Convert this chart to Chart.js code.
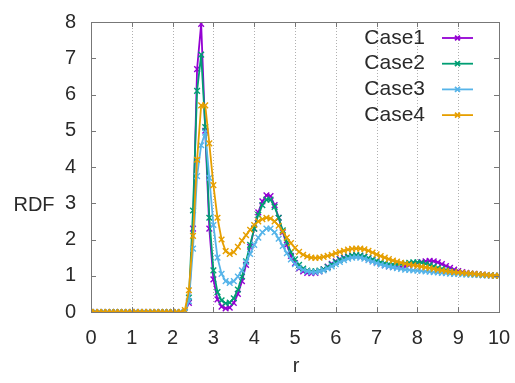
<!DOCTYPE html>
<html>
<head>
<meta charset="utf-8">
<script src="https://cdn.jsdelivr.net/npm/chart.js@4"></script>
<style>
  html, body { margin: 0; padding: 0; background: #fff; }
  #wrap { width: 515px; height: 383px; }
</style>
</head>
<body>
<div id="wrap"><canvas id="rdfChart" width="515" height="383"></canvas></div>
<script>
// r values (x axis)
const rValues = [
  0.0, 0.1, 0.2, 0.3, 0.4, 0.5, 0.6, 0.7, 0.8, 0.9,
  1.0, 1.1, 1.2, 1.3, 1.4, 1.5, 1.6, 1.7, 1.8, 1.9,
  2.0, 2.1, 2.2, 2.3, 2.4, 2.5, 2.6, 2.7, 2.8, 2.9,
  3.0, 3.1, 3.2, 3.3, 3.4, 3.5, 3.6, 3.7, 3.8, 3.9,
  4.0, 4.1, 4.2, 4.3, 4.4, 4.5, 4.6, 4.7, 4.8, 4.9,
  5.0, 5.1, 5.2, 5.3, 5.4, 5.5, 5.6, 5.7, 5.8, 5.9,
  6.0, 6.1, 6.2, 6.3, 6.4, 6.5, 6.6, 6.7, 6.8, 6.9,
  7.0, 7.1, 7.2, 7.3, 7.4, 7.5, 7.6, 7.7, 7.8, 7.9,
  8.0, 8.1, 8.2, 8.3, 8.4, 8.5, 8.6, 8.7, 8.8, 8.9,
  9.0, 9.1, 9.2, 9.3, 9.4, 9.5, 9.6, 9.7, 9.8, 9.9,
  10.0
];

const case1 = [
  0, 0, 0, 0, 0, 0, 0, 0, 0, 0,
  0, 0, 0, 0, 0, 0, 0, 0, 0, 0,
  0, 0, 0, 0, 0.25, 2.3, 6.7, 7.95, 5.0, 2.3,
  0.9, 0.35, 0.15, 0.1, 0.12, 0.25, 0.5, 0.85, 1.3, 1.8,
  2.3, 2.75, 3.05, 3.22, 3.2, 2.95, 2.6, 2.2, 1.85, 1.55,
  1.35, 1.2, 1.12, 1.08, 1.07, 1.08, 1.12, 1.18, 1.25, 1.33,
  1.4, 1.46, 1.5, 1.53, 1.55, 1.56, 1.55, 1.52, 1.48, 1.43,
  1.38, 1.33, 1.29, 1.26, 1.24, 1.23, 1.24, 1.26, 1.29, 1.32,
  1.35, 1.38, 1.4, 1.41, 1.4, 1.37, 1.32, 1.27, 1.22, 1.17,
  1.13, 1.1, 1.08, 1.06, 1.05, 1.04, 1.03, 1.02, 1.01, 1.0,
  1.0
];

const case2 = [
  0, 0, 0, 0, 0, 0, 0, 0, 0, 0,
  0, 0, 0, 0, 0, 0, 0, 0, 0, 0,
  0, 0, 0, 0, 0.4, 2.8, 6.1, 7.1, 5.1, 2.6,
  1.15, 0.55, 0.32, 0.24, 0.26, 0.38, 0.62, 0.98, 1.4, 1.85,
  2.3, 2.68, 2.95, 3.1, 3.1, 2.9, 2.6, 2.25, 1.92, 1.65,
  1.45, 1.3, 1.2, 1.14, 1.12, 1.12, 1.14, 1.18, 1.24, 1.31,
  1.38, 1.44, 1.49, 1.53, 1.56, 1.57, 1.56, 1.53, 1.49, 1.45,
  1.41, 1.37, 1.34, 1.32, 1.31, 1.31, 1.32, 1.34, 1.36, 1.37,
  1.37, 1.36, 1.33, 1.3, 1.26, 1.22, 1.19, 1.16, 1.13, 1.11,
  1.09, 1.07, 1.06, 1.05, 1.04, 1.03, 1.02, 1.02, 1.01, 1.0,
  1.0
];

const case3 = [
  0, 0, 0, 0, 0, 0, 0, 0, 0, 0,
  0, 0, 0, 0, 0, 0, 0, 0, 0, 0,
  0, 0, 0, 0, 0.3, 1.75, 3.75, 4.6, 4.95, 3.7,
  2.4, 1.5, 1.05, 0.85, 0.8, 0.85, 0.98, 1.15, 1.38, 1.6,
  1.85, 2.05, 2.2, 2.3, 2.3, 2.2, 2.02, 1.82, 1.62, 1.45,
  1.32, 1.22, 1.16, 1.12, 1.1, 1.1, 1.12, 1.15, 1.2, 1.26,
  1.32, 1.38, 1.43, 1.47, 1.5, 1.51, 1.5, 1.47, 1.43, 1.39,
  1.35, 1.31, 1.28, 1.25, 1.23, 1.21, 1.19, 1.17, 1.16, 1.15,
  1.14, 1.13, 1.12, 1.11, 1.1, 1.09, 1.08, 1.07, 1.06, 1.05,
  1.05, 1.04, 1.03, 1.03, 1.02, 1.02, 1.01, 1.01, 1.0, 1.0,
  1.0
];

const case4 = [
  0, 0, 0, 0, 0, 0, 0, 0, 0, 0,
  0, 0, 0, 0, 0, 0, 0, 0, 0, 0,
  0, 0, 0, 0.05, 0.6, 2.1, 4.2, 5.7, 5.7, 4.65,
  3.5, 2.6, 2.0, 1.68, 1.6, 1.65, 1.8, 1.97, 2.12, 2.27,
  2.4, 2.5, 2.56, 2.6, 2.58, 2.5, 2.38, 2.22, 2.05, 1.9,
  1.77, 1.66, 1.58, 1.53, 1.5, 1.49, 1.5, 1.52, 1.55, 1.58,
  1.62, 1.66, 1.69, 1.72, 1.74, 1.75, 1.75, 1.73, 1.69, 1.64,
  1.59, 1.54, 1.5, 1.46, 1.42, 1.39, 1.36, 1.33, 1.31, 1.29,
  1.27, 1.25, 1.23, 1.21, 1.19, 1.17, 1.15, 1.13, 1.11, 1.1,
  1.09, 1.08, 1.07, 1.06, 1.05, 1.04, 1.03, 1.02, 1.01, 1.0,
  1.0
];

const seriesNames = ["Case1", "Case2", "Case3", "Case4"];
const seriesValues = [case1, case2, case3, case4];
const seriesColors = ["#9400d3", "#009e73", "#56b4e9", "#e69f00"];

const FONT = "'Liberation Sans', Arial, sans-serif";
const TEXT = "#2a2a2a";

function toPoints(ys) {
  return ys.map((y, i) => ({ x: rValues[i], y: y }));
}

const datasets = seriesNames.map((name, i) => ({
  label: name,
  data: toPoints(seriesValues[i]),
  borderColor: seriesColors[i],
  backgroundColor: seriesColors[i],
  borderWidth: 1.8,
  pointStyle: "crossRot",
  pointRadius: 4,
  pointBorderWidth: 1.4,
  tension: 0,
  order: 4 - i
}));

// frame, inward ticks, axis titles, gnuplot-style legend
const gnuplotBits = {
  id: "gnuplotBits",
  beforeDatasetsDraw(chart) {
    // dotted vertical grid lines
    const ctx = chart.ctx;
    const a = chart.chartArea;
    const xs = chart.scales.x;
    ctx.save();
    ctx.strokeStyle = "#b0b0b0";
    ctx.lineWidth = 1;
    ctx.setLineDash([1, 2]);
    ctx.beginPath();
    xs.ticks.forEach(t => {
      if (t.value <= xs.min || t.value >= xs.max) return;
      const px = Math.round(xs.getPixelForValue(t.value)) + 0.5;
      ctx.moveTo(px, a.top); ctx.lineTo(px, a.bottom);
    });
    ctx.stroke();
    ctx.restore();
  },
  afterDatasetsDraw(chart) {
    const ctx = chart.ctx;
    const a = chart.chartArea;
    const xs = chart.scales.x, ys = chart.scales.y;
    ctx.save();
    ctx.strokeStyle = "#777";
    ctx.lineWidth = 1;
    ctx.beginPath();
    xs.ticks.forEach(t => {
      const px = Math.round(xs.getPixelForValue(t.value)) + 0.5;
      ctx.moveTo(px, a.bottom); ctx.lineTo(px, a.bottom - 5);
      ctx.moveTo(px, a.top); ctx.lineTo(px, a.top + 5);
    });
    ys.ticks.forEach(t => {
      const py = Math.round(ys.getPixelForValue(t.value)) + 0.5;
      ctx.moveTo(a.left, py); ctx.lineTo(a.left + 5, py);
      ctx.moveTo(a.right, py); ctx.lineTo(a.right - 5, py);
    });
    ctx.stroke();
    ctx.strokeRect(Math.round(a.left) + 0.5, Math.round(a.top) + 0.5,
                   Math.round(a.right - a.left), Math.round(a.bottom - a.top));

    // axis titles
    ctx.fillStyle = TEXT;
    ctx.font = "20px " + FONT;
    ctx.textAlign = "center";
    ctx.textBaseline = "middle";
    ctx.fillText("RDF", 34, 205);
    ctx.fillText("r", 296, 366);

    // legend
    chart.data.datasets.forEach((ds, i) => {
      const y = 38 + i * 25.7;
      ctx.fillStyle = TEXT;
      ctx.font = "21px " + FONT;
      ctx.textAlign = "right";
      ctx.fillText(ds.label, 425, y);
      ctx.strokeStyle = ds.borderColor;
      ctx.lineWidth = 1.8;
      ctx.beginPath();
      ctx.moveTo(442, y); ctx.lineTo(473, y);
      ctx.stroke();
      Chart.helpers.drawPoint(ctx, {
        pointStyle: "crossRot", radius: 3.5, borderWidth: 1.4
      }, 457.5, y);
    });
    ctx.restore();
  }
};

new Chart(document.getElementById("rdfChart"), {
  type: "line",
  data: { datasets: datasets },
  plugins: [gnuplotBits],
  options: {
    responsive: false,
    animation: false,
    layout: { padding: { top: 22, right: 16, left: 0, bottom: 0 } },
    plugins: { legend: { display: false }, tooltip: { enabled: false } },
    scales: {
      x: {
        type: "linear",
        min: 0, max: 10,
        ticks: { stepSize: 1, color: TEXT, font: { family: FONT, size: 20 }, padding: 14, maxRotation: 0 },
        grid: { display: false, drawTicks: false },
        border: { display: false },
        afterFit(s) { s.height = 71; s.paddingLeft = 0; s.paddingRight = 0; }
      },
      y: {
        min: 0, max: 8,
        ticks: { stepSize: 1, color: TEXT, font: { family: FONT, size: 20 }, padding: 15 },
        grid: { display: false, drawTicks: false },
        border: { display: false },
        afterFit(s) { s.width = 91; s.paddingTop = 0; s.paddingBottom = 0; }
      }
    }
  }
});
</script>
</body>
</html>
